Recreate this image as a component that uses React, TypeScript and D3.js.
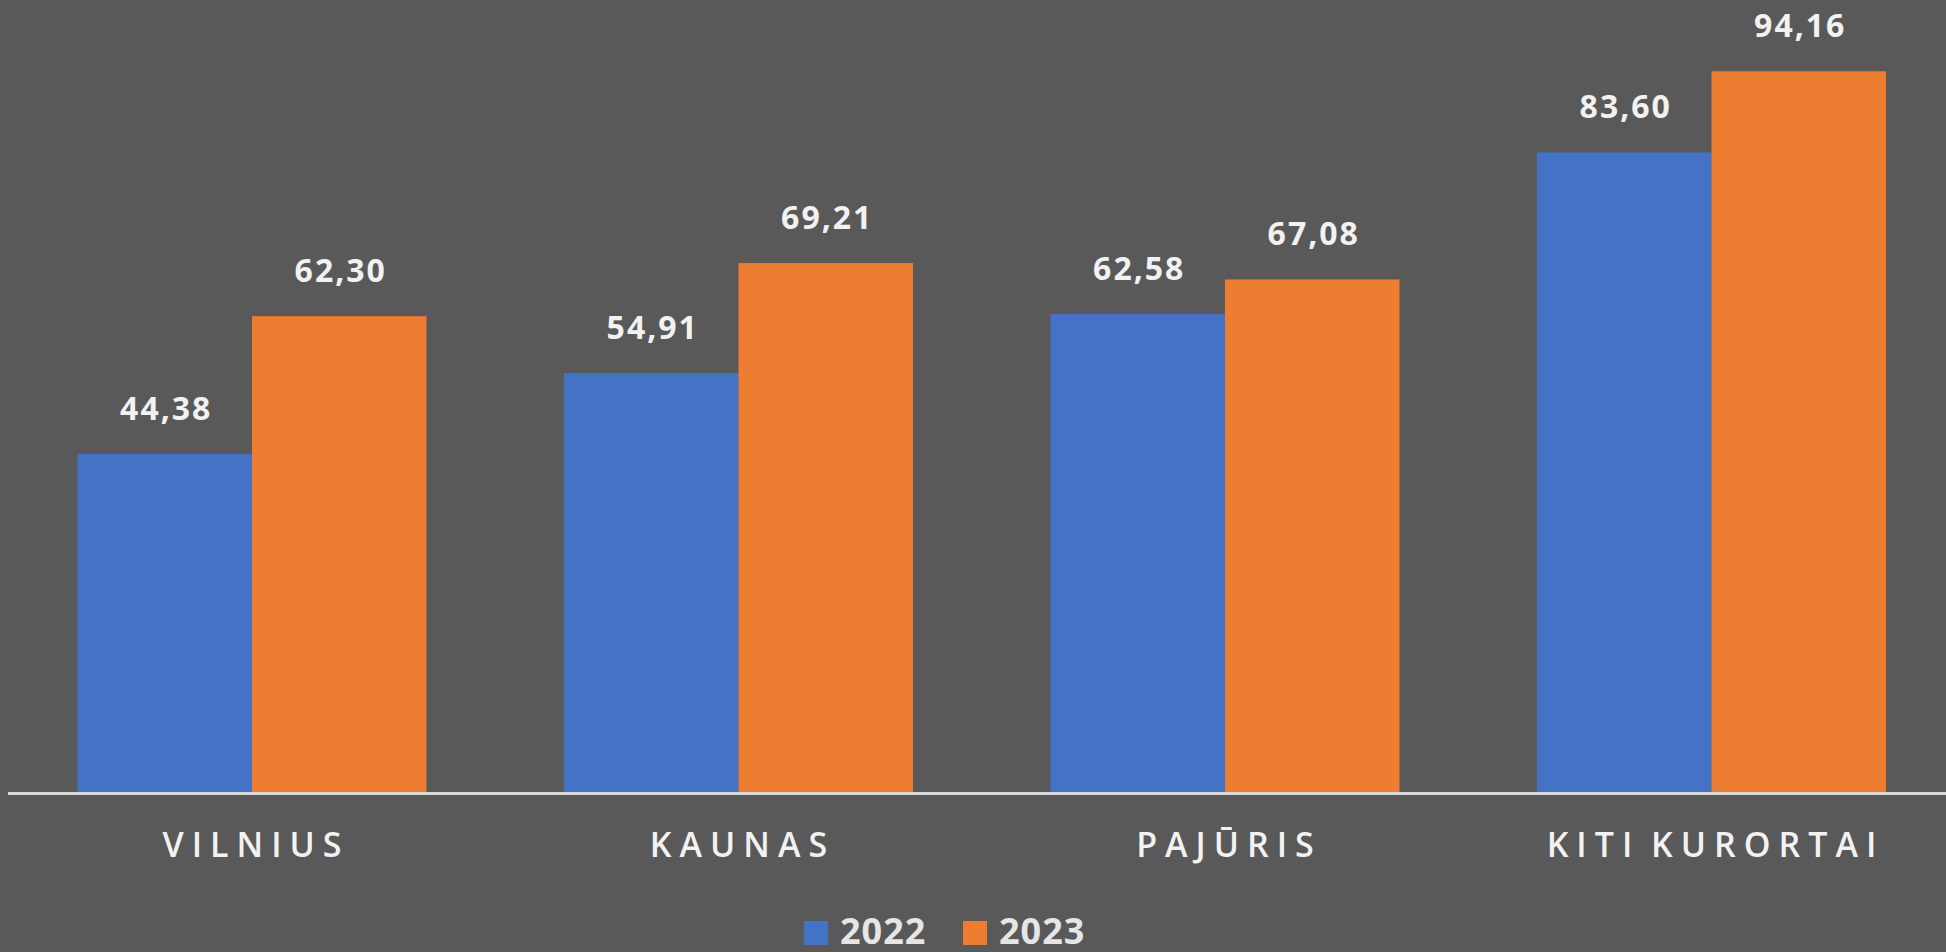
import React from "react";
import * as d3 from "d3";

const categories = ["VILNIUS", "KAUNAS", "PAJŪRIS", "KITI KURORTAI"];
const seriesNames = ["2022", "2023"];
const values2022 = [44.38, 54.91, 62.58, 83.6];
const values2023 = [62.3, 69.21, 67.08, 94.16];
const colors = ["#4472C4", "#ED7D31"];

const W = 1946;
const H = 952;
const fmt = (v: number) => v.toFixed(2).replace(".", ",");

export default function App() {
  const series = [values2022, values2023];

  const x0 = d3
    .scaleBand<string>()
    .domain(categories)
    .range([8.75, 1954.75])
    .paddingInner(0.2826)
    .paddingOuter(0.1413);
  const x1 = d3.scaleBand<string>().domain(seriesNames).range([0, x0.bandwidth()]);
  const y = d3.scaleLinear().domain([0, 100]).range([795, 26.4]);

  const legendX = [804, 963];

  return (
    <div style={{ position: "fixed", left: 0, top: 0 }}>
      <svg width={W} height={H} style={{ display: "block", fontFamily: "'Open Sans', sans-serif" }}>
        <rect width={W} height={H} fill="#595959" />

        {categories.map((c, i) => (
          <g key={c} transform={`translate(${x0(c)},0)`}>
            {seriesNames.map((s, j) => {
              const v = series[j][i];
              const bx = x1(s)!;
              return (
                <g key={s}>
                  <rect x={bx} y={y(v)} width={x1.bandwidth()} height={y(0) - y(v)} fill={colors[j]} />
                  <text
                    x={bx + x1.bandwidth() / 2 + 1.5}
                    y={y(v) - 34}
                    textAnchor="middle"
                    fill="#f2f2f2"
                    fontSize={32}
                    fontWeight={700}
                    letterSpacing={2}
                  >
                    {fmt(v)}
                  </text>
                </g>
              );
            })}
            <text
              x={x0.bandwidth() / 2 + 4}
              y={857}
              textAnchor="middle"
              fill="#f2f2f2"
              fontSize={34}
              fontWeight={600}
              letterSpacing={8}
              wordSpacing={-6}
            >
              {c}
            </text>
          </g>
        ))}

        <line x1={8} x2={W} y1={793.5} y2={793.5} stroke="#d9d9d9" strokeWidth={3} />

        {seriesNames.map((s, j) => (
          <g key={s}>
            <rect x={legendX[j]} y={921} width={24} height={24} fill={colors[j]} />
            <text x={legendX[j] + 36} y={944} fill="#e6e6e6" fontSize={36} fontWeight={700} letterSpacing={1}>
              {s}
            </text>
          </g>
        ))}
      </svg>
    </div>
  );
}
